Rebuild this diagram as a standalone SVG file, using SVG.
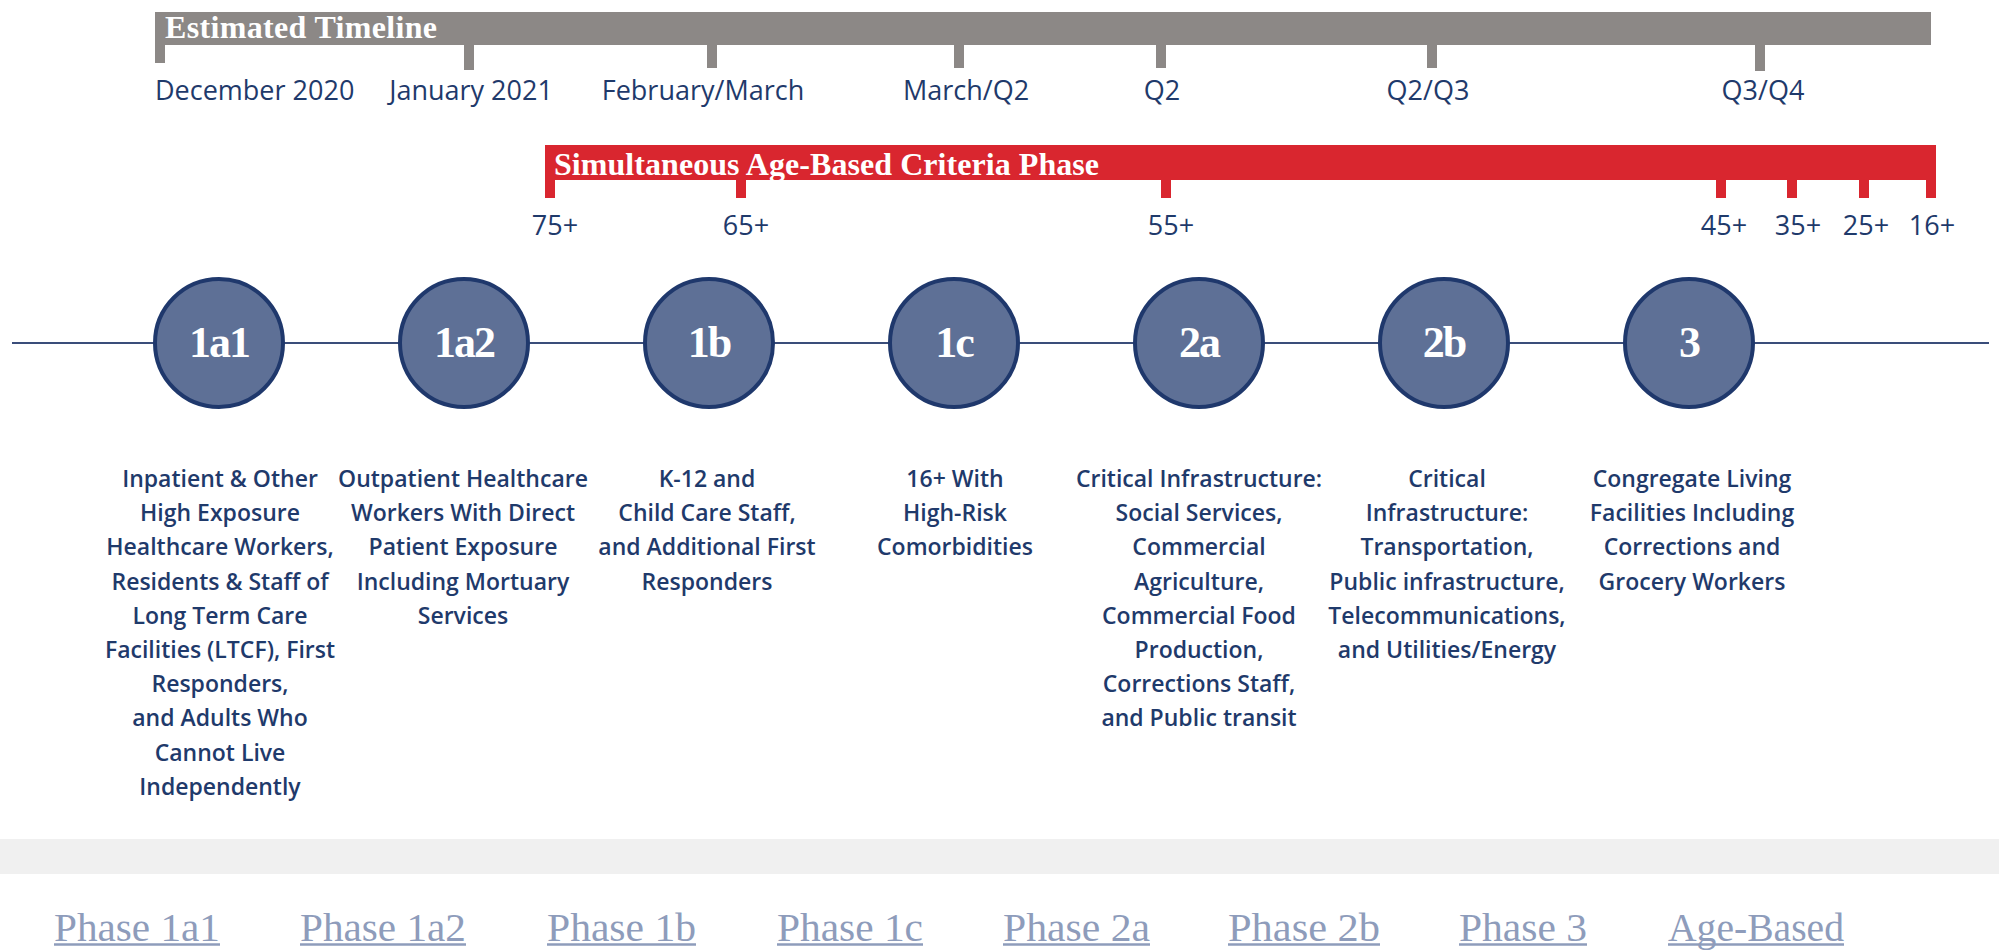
<svg xmlns="http://www.w3.org/2000/svg" width="1999" height="952" viewBox="0 0 1999 952">
<style>
.gbar{fill:#8c8886}
.rbar{fill:#d9262f}
.bartitle{font-family:"Liberation Serif","Times New Roman",serif;font-weight:bold;font-size:32px;fill:#ffffff}
.tl{font-family:"Open Sans","Liberation Sans",sans-serif;font-weight:500;font-size:27px;fill:#1f3a6b;text-anchor:middle}
.circ{fill:#5e7096;stroke:#1f386c;stroke-width:4}
.clab{font-family:"Liberation Serif","Times New Roman",serif;font-weight:bold;font-size:44px;fill:#ffffff;text-anchor:middle;letter-spacing:-2px}
.desc{font-family:"Open Sans","Liberation Sans",sans-serif;font-weight:600;font-size:23px;fill:#1f3a6b;text-anchor:middle}
.conn{stroke:#3a4d7a;stroke-width:2;fill:none}
.link{font-family:"Liberation Serif","Times New Roman",serif;font-size:39px;fill:#8e9cbb}
.ul{stroke:#8e9cbb;stroke-width:2.5}
</style>
<rect x="0" y="0" width="1999" height="952" fill="#ffffff"/>

<g id="estimated-timeline">
<rect class="gbar" x="155" y="12" width="1776" height="33"/>
<rect class="gbar" x="155" y="44" width="10" height="19"/>
<rect class="gbar" x="464" y="44" width="10" height="26"/>
<rect class="gbar" x="707" y="44" width="10" height="24"/>
<rect class="gbar" x="954" y="44" width="10" height="24"/>
<rect class="gbar" x="1156" y="44" width="10" height="24"/>
<rect class="gbar" x="1427" y="44" width="10" height="24"/>
<rect class="gbar" x="1755" y="44" width="10" height="27"/>
<text class="bartitle" x="165" y="38" textLength="272">Estimated Timeline</text>
<text class="tl" x="155" y="100" style="text-anchor:start">December 2020</text>
<text class="tl" x="471" y="100">January 2021</text>
<text class="tl" x="703" y="100">February/March</text>
<text class="tl" x="966" y="100">March/Q2</text>
<text class="tl" x="1162" y="100">Q2</text>
<text class="tl" x="1428" y="100">Q2/Q3</text>
<text class="tl" x="1763" y="100">Q3/Q4</text>
</g>

<g id="age-based-phase">
<rect class="rbar" x="545" y="145" width="1391" height="35"/>
<rect class="rbar" x="545" y="179" width="10" height="19"/>
<rect class="rbar" x="736" y="179" width="10" height="19"/>
<rect class="rbar" x="1161" y="179" width="10" height="19"/>
<rect class="rbar" x="1716" y="179" width="10" height="19"/>
<rect class="rbar" x="1787" y="179" width="10" height="19"/>
<rect class="rbar" x="1859" y="179" width="10" height="19"/>
<rect class="rbar" x="1926" y="179" width="10" height="19"/>
<text class="bartitle" x="554" y="175" textLength="545">Simultaneous Age-Based Criteria Phase</text>
<text class="tl" x="555" y="235">75+</text>
<text class="tl" x="746" y="235">65+</text>
<text class="tl" x="1171" y="235">55+</text>
<text class="tl" x="1724" y="235">45+</text>
<text class="tl" x="1798" y="235">35+</text>
<text class="tl" x="1866" y="235">25+</text>
<text class="tl" x="1932" y="235">16+</text>
</g>

<g id="connectors">
<line class="conn" x1="12" y1="343" x2="155" y2="343"/>
<line class="conn" x1="283" y1="343" x2="400" y2="343"/>
<line class="conn" x1="528" y1="343" x2="645" y2="343"/>
<line class="conn" x1="773" y1="343" x2="890" y2="343"/>
<line class="conn" x1="1018" y1="343" x2="1135" y2="343"/>
<line class="conn" x1="1263" y1="343" x2="1380" y2="343"/>
<line class="conn" x1="1508" y1="343" x2="1625" y2="343"/>
<line class="conn" x1="1753" y1="343" x2="1989" y2="343"/>
</g>

<g id="phase-1a1">
<circle class="circ" cx="219" cy="343" r="64"/>
<text class="clab" x="219" y="357">1a1</text>
<text class="desc" x="220" y="487">Inpatient &amp; Other</text>
<text class="desc" x="220" y="521.2">High Exposure</text>
<text class="desc" x="220" y="555.4">Healthcare Workers,</text>
<text class="desc" x="220" y="589.6">Residents &amp; Staff of</text>
<text class="desc" x="220" y="623.8">Long Term Care</text>
<text class="desc" x="220" y="658">Facilities (LTCF), First</text>
<text class="desc" x="220" y="692.2">Responders,</text>
<text class="desc" x="220" y="726.4">and Adults Who</text>
<text class="desc" x="220" y="760.6">Cannot Live</text>
<text class="desc" x="220" y="794.8">Independently</text>
</g>

<g id="phase-1a2">
<circle class="circ" cx="464" cy="343" r="64"/>
<text class="clab" x="464" y="357">1a2</text>
<text class="desc" x="463" y="487">Outpatient Healthcare</text>
<text class="desc" x="463" y="521.2">Workers With Direct</text>
<text class="desc" x="463" y="555.4">Patient Exposure</text>
<text class="desc" x="463" y="589.6">Including Mortuary</text>
<text class="desc" x="463" y="623.8">Services</text>
</g>

<g id="phase-1b">
<circle class="circ" cx="709" cy="343" r="64"/>
<text class="clab" x="709" y="357">1b</text>
<text class="desc" x="707" y="487">K-12 and</text>
<text class="desc" x="707" y="521.2">Child Care Staff,</text>
<text class="desc" x="707" y="555.4">and Additional First</text>
<text class="desc" x="707" y="589.6">Responders</text>
</g>

<g id="phase-1c">
<circle class="circ" cx="954" cy="343" r="64"/>
<text class="clab" x="954" y="357">1c</text>
<text class="desc" x="955" y="487">16+ With</text>
<text class="desc" x="955" y="521.2">High-Risk</text>
<text class="desc" x="955" y="555.4">Comorbidities</text>
</g>

<g id="phase-2a">
<circle class="circ" cx="1199" cy="343" r="64"/>
<text class="clab" x="1199" y="357">2a</text>
<text class="desc" x="1199" y="487">Critical Infrastructure:</text>
<text class="desc" x="1199" y="521.2">Social Services,</text>
<text class="desc" x="1199" y="555.4">Commercial</text>
<text class="desc" x="1199" y="589.6">Agriculture,</text>
<text class="desc" x="1199" y="623.8">Commercial Food</text>
<text class="desc" x="1199" y="658">Production,</text>
<text class="desc" x="1199" y="692.2">Corrections Staff,</text>
<text class="desc" x="1199" y="726.4">and Public transit</text>
</g>

<g id="phase-2b">
<circle class="circ" cx="1444" cy="343" r="64"/>
<text class="clab" x="1444" y="357">2b</text>
<text class="desc" x="1447" y="487">Critical</text>
<text class="desc" x="1447" y="521.2">Infrastructure:</text>
<text class="desc" x="1447" y="555.4">Transportation,</text>
<text class="desc" x="1447" y="589.6">Public infrastructure,</text>
<text class="desc" x="1447" y="623.8">Telecommunications,</text>
<text class="desc" x="1447" y="658">and Utilities/Energy</text>
</g>

<g id="phase-3">
<circle class="circ" cx="1689" cy="343" r="64"/>
<text class="clab" x="1689" y="357">3</text>
<text class="desc" x="1692" y="487">Congregate Living</text>
<text class="desc" x="1692" y="521.2">Facilities Including</text>
<text class="desc" x="1692" y="555.4">Corrections and</text>
<text class="desc" x="1692" y="589.6">Grocery Workers</text>
</g>

<rect x="0" y="839" width="1999" height="35" fill="#f0f0f0"/>

<g id="phase-links">
<text class="link" x="54" y="941" textLength="166" lengthAdjust="spacingAndGlyphs">Phase 1a1</text>
<line class="ul" x1="54" y1="944.5" x2="220" y2="944.5"/>
<text class="link" x="300" y="941" textLength="166" lengthAdjust="spacingAndGlyphs">Phase 1a2</text>
<line class="ul" x1="300" y1="944.5" x2="466" y2="944.5"/>
<text class="link" x="547" y="941" textLength="149" lengthAdjust="spacingAndGlyphs">Phase 1b</text>
<line class="ul" x1="547" y1="944.5" x2="696" y2="944.5"/>
<text class="link" x="777" y="941" textLength="146" lengthAdjust="spacingAndGlyphs">Phase 1c</text>
<line class="ul" x1="777" y1="944.5" x2="923" y2="944.5"/>
<text class="link" x="1003" y="941" textLength="147" lengthAdjust="spacingAndGlyphs">Phase 2a</text>
<line class="ul" x1="1003" y1="944.5" x2="1150" y2="944.5"/>
<text class="link" x="1228" y="941" textLength="152" lengthAdjust="spacingAndGlyphs">Phase 2b</text>
<line class="ul" x1="1228" y1="944.5" x2="1380" y2="944.5"/>
<text class="link" x="1459" y="941" textLength="128" lengthAdjust="spacingAndGlyphs">Phase 3</text>
<line class="ul" x1="1459" y1="944.5" x2="1587" y2="944.5"/>
<text class="link" x="1668" y="941" textLength="176" lengthAdjust="spacingAndGlyphs">Age-Based</text>
<line class="ul" x1="1668" y1="944.5" x2="1844" y2="944.5"/>
</g>
</svg>
